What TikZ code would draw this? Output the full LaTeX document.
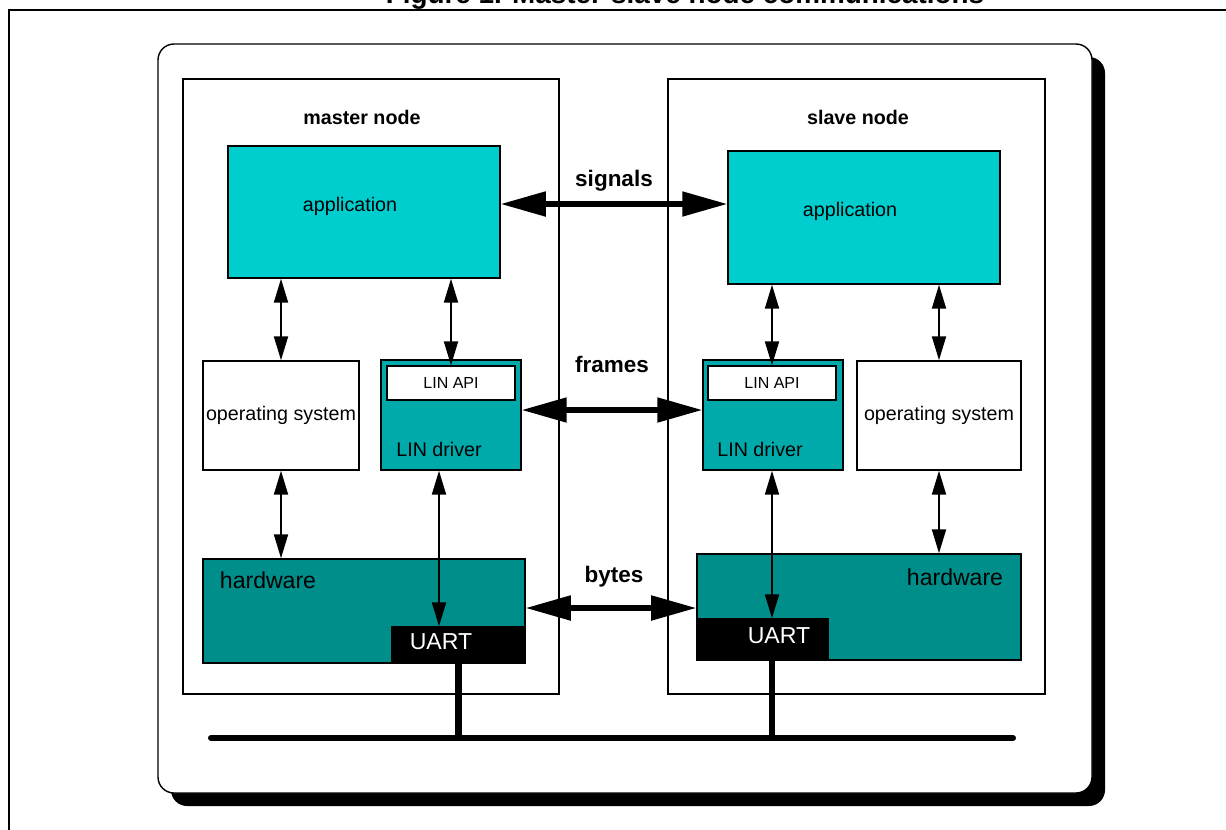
\documentclass[tikz,border=0pt]{standalone}
\usepackage{fontspec}
\setmainfont{Liberation Sans}
\usetikzlibrary{arrows.meta,calc}
\tikzset{every node/.append style={align=center}}
\definecolor{appcolor}{RGB}{0,206,206}
\definecolor{drivercolor}{RGB}{0,170,170}
\definecolor{hwcolor}{RGB}{0,142,138}
\tikzset{
  box/.style={draw, line width=1pt, inner sep=0pt},
  bigarrow/.style={line width=3.6pt, {Triangle[length=1.125cm,width=0.6cm]}-{Triangle[length=1.125cm,width=0.6cm]}},
  smallarrow/.style={line width=1.4pt, {Triangle[length=0.6cm,width=0.35cm]}-{Triangle[length=0.6cm,width=0.35cm]}},
  bus/.style={line width=4.3pt},
  txt/.style={font=\fontsize{14}{16}\selectfont},
  bigtxt/.style={font=\fontsize{16.4}{18}\selectfont},
  boldtxt/.style={font=\bfseries\fontsize{16}{18}\selectfont}
}

\begin{document}
\begin{tikzpicture}[x=0.025cm, y=-0.025cm]
    \useasboundingbox (0,0) rectangle (1226,830);

    % Title and page frame
    \node[anchor=base, font=\bfseries\fontsize{19.8}{22}\selectfont] (title) at (685,3) {Figure 1. Master-slave node communications};
    \draw[line width=1.4pt] (9,840) -- (9,10) -- (1240,10);

    % Rounded panel with shadow
    \fill[black, rounded corners=0.4cm] (171,57) rectangle (1105,806);
    \draw[fill=white, line width=1pt, rounded corners=0.4cm] (158,44) rectangle (1092,793);

    % Nodes
    \node[box, minimum width=9.4cm, minimum height=15.375cm] (mnode) at (371,386.5) {};
    \node[box, minimum width=9.425cm, minimum height=15.375cm] (snode) at (856.5,386.5) {};
    \node[font=\bfseries\fontsize{14}{16}\selectfont] (mnodetxt) at (362,117) {master node};
    \node[font=\bfseries\fontsize{14}{16}\selectfont] (snodetxt) at (858,117) {slave node};

    % Application
    \node[box, fill=appcolor, minimum width=6.8cm, minimum height=3.3cm] (mapp) at (364,212) {};
    \node[txt] (mapptxt) at (350,206) {application};
    \node[box, fill=appcolor, minimum width=6.8cm, minimum height=3.325cm] (sapp) at (864,217.5) {};
    \node[txt] (sapptxt) at (850,211) {application};

    % Operating system
    \node[box, fill=white, minimum width=3.9cm, minimum height=2.725cm, txt] (mos) at (281,415.5) {operating system};
    \node[box, fill=white, minimum width=4.1cm, minimum height=2.725cm, txt] (sos) at (939,415.5) {operating system};

    % LIN driver
    \node[box, fill=drivercolor, minimum width=3.5cm, minimum height=2.75cm] (mdrv) at (451,415) {};
    \node[box, fill=white, minimum width=3.2cm, minimum height=0.85cm, font=\fontsize{11.4}{13}\selectfont] (mapi) at (451,383) {LIN API};
    \node[txt] (mdrvtxt) at (439,449) {LIN driver};
    \node[box, fill=drivercolor, minimum width=3.5cm, minimum height=2.75cm] (sdrv) at (773,415) {};
    \node[box, fill=white, minimum width=3.2cm, minimum height=0.85cm, font=\fontsize{11.4}{13}\selectfont] (sapi) at (772,383) {LIN API};
    \node[txt] (sdrvtxt) at (760,449) {LIN driver};

    % Hardware
    \node[box, fill=hwcolor, minimum width=8.05cm, minimum height=2.6cm] (mhw) at (364,611) {};
    \node[bigtxt] (mhwtxt) at (268,580) {hardware};
    \node[box, fill=black, minimum width=3.325cm, minimum height=0.9cm] (muart) at (458.5,645) {};
    \node[bigtxt, text=white] (muarttxt) at (441,642) {UART};
    \node[box, fill=hwcolor, minimum width=8.1cm, minimum height=2.65cm] (shw) at (859,607) {};
    \node[bigtxt] (shwtxt) at (955,577) {hardware};
    \node[box, fill=black, minimum width=3.275cm, minimum height=1.025cm] (suart) at (762.5,639.5) {};
    \node[bigtxt, text=white] (suarttxt) at (779,636) {UART};

    % Peer communication
    \coordinate (sig) at (614,204);
    \coordinate (frm) at (612,410);
    \coordinate (byt) at (614,608);
    \draw[bigarrow] (mapp.east |- sig) -- (sapp.west |- sig);
    \draw[bigarrow] (mdrv.east |- frm) -- (sdrv.west |- frm);
    \draw[bigarrow] (mhw.east |- byt) -- (shw.west |- byt);
    \node[boldtxt] (sigtxt) at (614,181) {signals};
    \node[boldtxt] (frmtxt) at (612,364) {frames};
    \node[boldtxt] (byttxt) at (614,577) {bytes};

    % Layer interfaces
    \draw[smallarrow] (mapp.south -| mos) -- (mos.north);
    \draw[smallarrow] (mapp.south -| mapi) -- (mapi.north);
    \draw[smallarrow] (mos.south) -- (mos.south |- mhw.north);
    \draw[smallarrow] (mdrv.south -| mdrvtxt) -- (muart.north -| mdrvtxt);
    \draw[smallarrow] (sapp.south -| sapi) -- (sapi.north);
    \draw[smallarrow] (sapp.south -| sos) -- (sos.north);
    \draw[smallarrow] (sos.south) -- (sos.south |- shw.north);
    \draw[smallarrow] (sdrv.south -| sapi) -- (suart.north -| sapi);

    % Bus
    \coordinate (busl) at (211,738);
    \coordinate (busr) at (1013,738);
    \draw[bus, line cap=round] (busl) -- (busr);
    \draw[bus] (muart.south) -- (muart.south |- busl);
    \draw[bus] (suart.south -| sapi) -- (sapi |- busl);
\end{tikzpicture}
\end{document}
